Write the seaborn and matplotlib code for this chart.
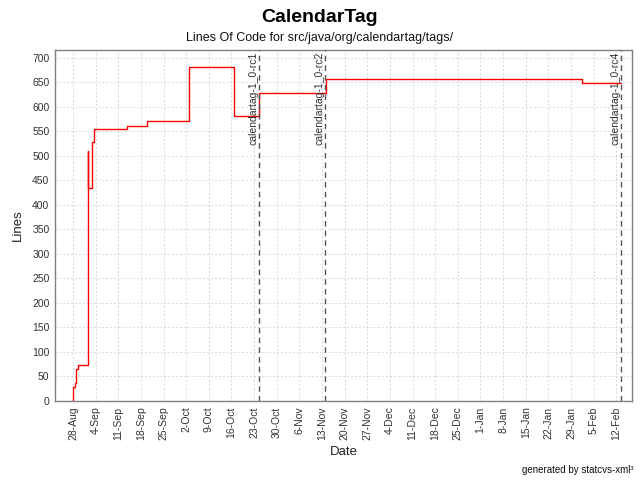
import matplotlib
matplotlib.use("Agg")
import matplotlib.pyplot as plt
import matplotlib.dates as mdates
import matplotlib.transforms as mtransforms
import seaborn as sns
import pandas as pd

# ---- data ----
dates = [
    "2003-08-27 23:00", "2003-08-28 00:00", "2003-08-28 13:00", "2003-08-29 00:00",
    "2003-08-29 14:00", "2003-09-01 17:00", "2003-09-01 18:00", "2003-09-03 00:00",
    "2003-09-03 12:00", "2003-09-13 19:00", "2003-09-19 19:00", "2003-10-02 17:00",
    "2003-10-16 17:00", "2003-10-24 14:00", "2003-11-14 04:00", "2003-11-14 06:00",
    "2004-02-01 12:00", "2004-02-13 12:00",
]
lines = [0, 28, 36, 65, 73, 509, 434, 528, 554, 561, 571, 681, 582, 628, 635, 656, 648, 648]

marker_dates = ["2003-10-24 14:00", "2003-11-14 00:00", "2004-02-13 12:00"]
marker_labels = ["calendartag-1_0-rc1", "calendartag-1_0-rc2", "calendartag-1_0-rc4"]

tick_start = "2003-08-28"
tick_end = "2004-02-12"
y_ticks = list(range(0, 701, 50))

df = pd.DataFrame({"Date": pd.to_datetime(dates), "Lines": lines})

sns.set_style("white")
plt.rcParams["font.family"] = ["Liberation Sans", "DejaVu Sans"]

fig = plt.figure(figsize=(6.4, 4.8), dpi=100)
ax = fig.add_axes([55 / 640, 79 / 480, (632 - 55) / 640, (401 - 50) / 480])

sns.lineplot(data=df, x="Date", y="Lines", ax=ax, color="#ff0000", linewidth=1.0,
             drawstyle="steps-post", estimator=None, sort=False)

trans = mtransforms.blended_transform_factory(ax.transData, ax.transAxes)
for d, lab in zip(marker_dates, marker_labels):
    xd = mdates.date2num(pd.Timestamp(d))
    ax.axvline(xd, color="#555555", linewidth=1.0, linestyle=(0, (4, 3)), zorder=3)
    ax.text(xd - 0.3, 0.995, lab, rotation=90, ha="right", va="top", fontsize=7.5,
            color="#333333", transform=trans)

ticks = pd.date_range(tick_start, tick_end, freq="7D")
ax.set_xticks(mdates.date2num(ticks))
ax.set_xticklabels([f"{t.day}-{t.strftime('%b')}" for t in ticks], rotation=90, fontsize=7.5)
ax.set_yticks(y_ticks)
ax.set_yticklabels([str(v) for v in y_ticks], fontsize=7.5)

ax.set_xlim(mdates.date2num(pd.Timestamp("2003-08-22 10:00")),
            mdates.date2num(pd.Timestamp("2004-02-16 21:00")))
ax.set_ylim(0, 716)

ax.grid(True, color="#d8d8d8", linestyle=(0, (2, 2)), linewidth=0.7)
ax.set_axisbelow(True)
for s in ax.spines.values():
    s.set_color("#808080")
    s.set_linewidth(1.0)
ax.tick_params(axis="both", colors="#808080", length=2, width=0.8, labelcolor="#333333", pad=2)

ax.set_xlabel("Date", fontsize=9.5, color="#222222", labelpad=4)
ax.set_ylabel("Lines", fontsize=9.5, color="#222222", labelpad=6)

fig.text(0.5, 1 - 17 / 480, "CalendarTag", ha="center", va="center", fontsize=14,
         fontweight="bold", color="black")
fig.text(0.5, 1 - 38 / 480, "Lines Of Code for src/java/org/calendartag/tags/", ha="center",
         va="center", fontsize=9, color="#111111")
fig.text(634 / 640, 1 - 470 / 480, "generated by statcvs-xml\u00b3", ha="right", va="center",
         fontsize=7, color="#111111")

fig.savefig("out.png", dpi=100)
